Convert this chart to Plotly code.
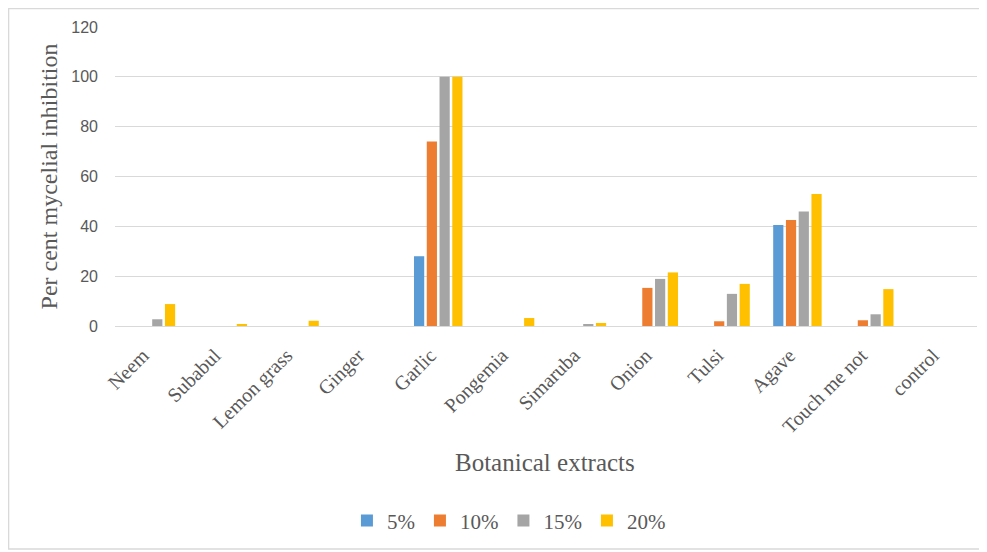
import plotly.graph_objects as go

categories = ["Neem", "Subabul", "Lemon grass", "Ginger", "Garlic", "Pongemia",
              "Simaruba", "Onion", "Tulsi", "Agave", "Touch me not", "control"]
series_names = ["5%", "10%", "15%", "20%"]
v5 = [0, 0, 0, 0, 28, 0, 0, 0, 0, 40.5, 0, 0]
v10 = [0, 0, 0, 0, 74, 0, 0, 15.3, 1.9, 42.5, 2.3, 0]
v15 = [2.7, 0, 0, 0, 100, 0, 0.7, 18.9, 12.9, 46, 4.7, 0]
v20 = [8.8, 0.8, 2.1, 0, 100, 3.2, 1.2, 21.5, 16.9, 53, 14.8, 0]
colors = ["#5B9BD5", "#ED7D31", "#A5A5A5", "#FFC000"]
y_ticks = [0, 20, 40, 60, 80, 100, 120]

fig = go.Figure()
for name, vals, col in zip(series_names, [v5, v10, v15, v20], colors):
    fig.add_trace(go.Bar(x=categories, y=vals, name=name, marker_color=col,
                         marker_line_width=0))

serif = "Liberation Serif, Times New Roman, serif"
fig.update_layout(
    width=979, height=544,
    margin=dict(l=107, r=10, t=19, b=226),
    paper_bgcolor="white", plot_bgcolor="white",
    barmode="group", bargap=0.29, bargroupgap=0.2,
    showlegend=True,
    legend=dict(orientation="h", x=0.457, xanchor="center", y=-0.652, yanchor="middle",
                font=dict(family=serif, size=21, color="#595959"),
                itemwidth=30, traceorder="normal", tracegroupgap=0),
    xaxis=dict(tickangle=-45, tickfont=dict(family=serif, size=20, color="#595959"),
               showline=True, linecolor="#D9D9D9", linewidth=1, ticks="",
               showgrid=False, ticklabelstandoff=9, ticklabelshift=-8),
    yaxis=dict(range=[0, 120], tickvals=y_ticks, showgrid=True, gridcolor="#D9D9D9",
               gridwidth=1, zeroline=False, showline=False,
               tickfont=dict(family="Liberation Sans, Arial, sans-serif", size=16, color="#595959"),
               ticklabelstandoff=16),
    shapes=[dict(type="rect", xref="paper", yref="paper", x0=-0.1235, x1=1.008,
                 y0=-0.746, y1=1.062, line=dict(color="#D9D9D9", width=1.5),
                 fillcolor="rgba(0,0,0,0)")],
    annotations=[
        dict(text="Botanical extracts", xref="paper", yref="paper", x=0.499, y=-0.458,
             showarrow=False, font=dict(family=serif, size=25, color="#595959"),
             xanchor="center", yanchor="middle"),
        dict(text="Per cent mycelial inhibition", xref="paper", yref="paper", x=-0.0766, y=0.5,
             showarrow=False, textangle=-90, font=dict(family=serif, size=24, color="#595959"),
             xanchor="center", yanchor="middle"),
    ],
)
fig.write_html("out.html")
